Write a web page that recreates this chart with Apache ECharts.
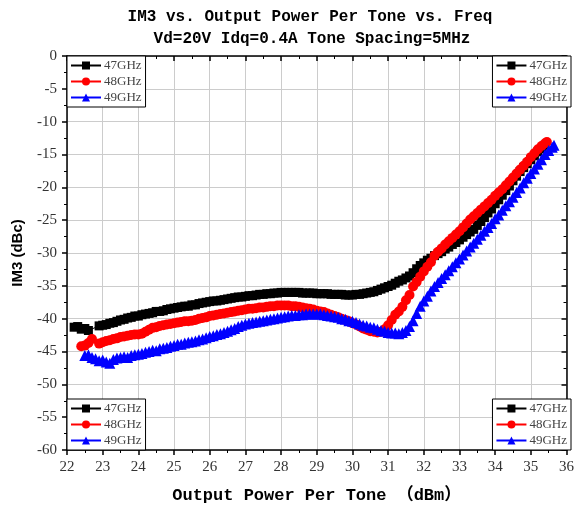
<!DOCTYPE html>
<html>
<head>
<meta charset="utf-8">
<script src="https://cdn.jsdelivr.net/npm/echarts@6/dist/echarts.min.js"></script>
<style>html,body{margin:0;padding:0;background:#fff}#c{width:577px;height:514px}</style>
</head>
<body>
<div id="c"></div>
<script>
const titleLines = ['IM3 vs. Output Power Per Tone vs. Freq', 'Vd=20V Idq=0.4A Tone Spacing=5MHz'];
const xName = 'Output Power Per Tone \uFF08dBm\uFF09';
const yName = 'IM3 (dBc)';
const seriesNames = ['47GHz', '48GHz', '49GHz'];
const seriesColors = ['#000000', '#ff0000', '#0000ff'];
const seriesSymbols = ['rect', 'circle', 'triangle'];
const xRange = [22, 36, 1];
const yRange = [-60, 0, 5];

const im3_47GHz = [
[22.2,-41.3],[22.3,-41.2],[22.4,-41.6],[22.5,-41.5],[22.6,-41.8],
[22.9,-41.1],[23.0,-41.0],[23.1,-40.9],[23.2,-40.7],[23.3,-40.6],[23.4,-40.4],[23.5,-40.2],[23.6,-40.1],[23.7,-39.9],[23.8,-39.8],[23.9,-39.6],
[24.0,-39.6],[24.1,-39.4],[24.2,-39.3],[24.3,-39.2],[24.4,-39.1],[24.5,-38.9],[24.6,-38.9],[24.7,-38.8],[24.8,-38.6],[24.9,-38.5],
[25.0,-38.4],[25.1,-38.3],[25.2,-38.2],[25.3,-38.1],[25.4,-38.1],[25.5,-37.9],[25.6,-37.9],[25.7,-37.7],[25.8,-37.6],[25.9,-37.5],
[26.0,-37.4],[26.1,-37.3],[26.2,-37.3],[26.3,-37.2],[26.4,-37.1],[26.5,-37.0],[26.6,-36.9],[26.7,-36.8],[26.8,-36.7],[26.9,-36.7],
[27.0,-36.6],[27.1,-36.5],[27.2,-36.5],[27.3,-36.4],[27.4,-36.3],[27.5,-36.3],[27.6,-36.2],[27.7,-36.2],[27.8,-36.1],[27.9,-36.1],
[28.0,-36.0],[28.1,-36.0],[28.2,-36.0],[28.3,-36.0],[28.4,-36.0],[28.5,-36.0],[28.6,-36.1],[28.7,-36.1],[28.8,-36.1],[28.9,-36.1],
[29.0,-36.2],[29.1,-36.2],[29.2,-36.2],[29.3,-36.2],[29.4,-36.3],[29.5,-36.3],[29.6,-36.3],[29.7,-36.3],[29.8,-36.4],[29.9,-36.4],
[30.0,-36.4],[30.1,-36.3],[30.2,-36.3],[30.3,-36.2],[30.4,-36.1],[30.5,-36.0],[30.6,-35.9],[30.7,-35.7],[30.8,-35.5],[30.9,-35.3],
[31.0,-35.1],[31.1,-34.9],[31.2,-34.6],[31.3,-34.3],[31.4,-34.1],[31.5,-33.8],[31.6,-33.5],[31.7,-33.0],[31.8,-32.4],[31.9,-31.9],
[32.0,-31.5],[32.1,-31.1],[32.2,-30.8],[32.3,-30.4],[32.4,-30.1],[32.5,-29.8],[32.6,-29.4],[32.7,-29.1],[32.8,-28.7],[32.9,-28.4],
[33.0,-28.0],[33.1,-27.6],[33.2,-27.2],[33.3,-26.8],[33.4,-26.4],[33.5,-25.8],[33.6,-25.2],[33.7,-24.6],[33.8,-23.9],[33.9,-23.3],
[34.0,-22.5],[34.1,-21.9],[34.2,-21.2],[34.3,-20.5],[34.4,-19.8],[34.5,-19.0],[34.6,-18.3],[34.7,-17.6],[34.8,-17.0],[34.9,-16.4],
[35.0,-15.8],[35.1,-15.2],[35.2,-14.6],[35.3,-14.1],[35.4,-13.6]
];

const im3_48GHz = [
[22.4,-44.2],[22.5,-44.1],[22.6,-43.7],[22.7,-43.1],
[22.9,-43.8],[23.0,-43.6],[23.1,-43.4],[23.2,-43.3],[23.3,-43.1],[23.4,-43.0],[23.5,-42.8],[23.6,-42.7],[23.7,-42.6],[23.8,-42.5],[23.9,-42.4],
[24.0,-42.4],[24.1,-42.3],[24.2,-42.0],[24.3,-41.7],[24.4,-41.4],[24.5,-41.3],[24.6,-41.1],[24.7,-41.0],[24.8,-40.9],[24.9,-40.8],
[25.0,-40.7],[25.1,-40.6],[25.2,-40.5],[25.3,-40.4],[25.4,-40.4],[25.5,-40.3],[25.6,-40.2],[25.7,-40.0],[25.8,-39.9],[25.9,-39.8],
[26.0,-39.6],[26.1,-39.5],[26.2,-39.4],[26.3,-39.3],[26.4,-39.2],[26.5,-39.1],[26.6,-39.0],[26.7,-38.9],[26.8,-38.8],[26.9,-38.7],
[27.0,-38.6],[27.1,-38.5],[27.2,-38.5],[27.3,-38.4],[27.4,-38.3],[27.5,-38.3],[27.6,-38.2],[27.7,-38.1],[27.8,-38.1],[27.9,-38.0],
[28.0,-38.0],[28.1,-38.0],[28.2,-38.0],[28.3,-38.1],[28.4,-38.1],[28.5,-38.2],[28.6,-38.3],[28.7,-38.4],[28.8,-38.5],[28.9,-38.6],
[29.0,-38.8],[29.1,-38.9],[29.2,-39.0],[29.3,-39.2],[29.4,-39.4],[29.5,-39.6],[29.6,-39.8],[29.7,-40.0],[29.8,-40.2],[29.9,-40.4],
[30.0,-40.7],[30.1,-40.9],[30.2,-41.2],[30.3,-41.5],[30.4,-41.7],[30.5,-41.9],[30.6,-42.0],[30.7,-42.1],[30.8,-42.0],[30.9,-41.6],
[31.0,-41.0],[31.1,-40.2],[31.2,-39.4],[31.3,-38.9],[31.4,-38.2],[31.5,-37.2],[31.6,-36.4],[31.7,-35.1],[31.8,-34.4],[31.9,-33.6],
[32.0,-32.8],[32.1,-32.1],[32.2,-31.4],[32.3,-30.4],[32.4,-29.8],[32.5,-29.3],[32.6,-28.7],[32.7,-28.2],[32.8,-27.7],[32.9,-27.2],
[33.0,-26.7],[33.1,-26.1],[33.2,-25.5],[33.3,-24.9],[33.4,-24.4],[33.5,-23.9],[33.6,-23.4],[33.7,-22.9],[33.8,-22.4],[33.9,-21.9],
[34.0,-21.3],[34.1,-20.8],[34.2,-20.3],[34.3,-19.7],[34.4,-19.1],[34.5,-18.5],[34.6,-17.9],[34.7,-17.3],[34.8,-16.7],[34.9,-16.1],
[35.0,-15.4],[35.1,-14.8],[35.2,-14.2],[35.3,-13.7],[35.4,-13.3],[35.45,-13.1]
];

const im3_49GHz = [
[22.5,-45.6],[22.6,-45.5],[22.7,-45.9],[22.8,-46.1],[22.9,-46.4],
[23.0,-46.3],[23.1,-46.6],[23.2,-46.8],[23.3,-46.2],[23.4,-46.0],[23.5,-45.9],[23.6,-45.8],[23.7,-45.9],[23.8,-45.6],[23.9,-45.5],
[24.0,-45.4],[24.1,-45.3],[24.2,-45.1],[24.3,-45.0],[24.4,-44.8],[24.5,-44.9],[24.6,-44.6],[24.7,-44.5],[24.8,-44.4],[24.9,-44.2],
[25.0,-44.1],[25.1,-43.9],[25.2,-43.9],[25.3,-43.7],[25.4,-43.6],[25.5,-43.5],[25.6,-43.4],[25.7,-43.2],[25.8,-43.1],[25.9,-42.9],
[26.0,-42.7],[26.1,-42.6],[26.2,-42.4],[26.3,-42.3],[26.4,-42.1],[26.5,-41.9],[26.6,-41.7],[26.7,-41.5],[26.8,-41.2],[26.9,-41.0],
[27.0,-40.8],[27.1,-40.7],[27.2,-40.6],[27.3,-40.5],[27.4,-40.4],[27.5,-40.3],[27.6,-40.2],[27.7,-40.1],[27.8,-40.0],[27.9,-39.9],
[28.0,-39.8],[28.1,-39.7],[28.2,-39.6],[28.3,-39.5],[28.4,-39.5],[28.5,-39.4],[28.6,-39.4],[28.7,-39.3],[28.8,-39.3],[28.9,-39.3],
[29.0,-39.3],[29.1,-39.3],[29.2,-39.4],[29.3,-39.5],[29.4,-39.6],[29.5,-39.7],[29.6,-39.8],[29.7,-40.0],[29.8,-40.1],[29.9,-40.3],
[30.0,-40.4],[30.1,-40.6],[30.2,-40.8],[30.3,-41.0],[30.4,-41.1],[30.5,-41.3],[30.6,-41.4],[30.7,-41.6],[30.8,-41.8],[30.9,-41.9],
[31.0,-42.1],[31.1,-42.2],[31.2,-42.2],[31.3,-42.3],[31.4,-42.1],[31.5,-41.8],[31.6,-41.2],[31.7,-40.3],[31.8,-39.2],[31.9,-38.1],
[32.0,-37.3],[32.1,-36.6],[32.2,-35.8],[32.3,-35.1],[32.4,-34.5],[32.5,-33.9],[32.6,-33.3],[32.7,-32.7],[32.8,-32.1],[32.9,-31.5],
[33.0,-30.9],[33.1,-30.3],[33.2,-29.7],[33.3,-29.1],[33.4,-28.5],[33.5,-27.9],[33.6,-27.3],[33.7,-26.7],[33.8,-26.1],[33.9,-25.5],
[34.0,-24.8],[34.1,-24.2],[34.2,-23.5],[34.3,-22.8],[34.4,-22.2],[34.5,-21.5],[34.6,-20.8],[34.7,-20.1],[34.8,-19.3],[34.9,-18.6],
[35.0,-17.9],[35.1,-17.2],[35.2,-16.5],[35.3,-15.8],[35.4,-15.0],[35.5,-14.4],[35.6,-13.9],[35.65,-13.6]
];

const seriesData = [im3_47GHz, im3_48GHz, im3_49GHz];
const symbolSizes = [9, 10, 11];

const chart = echarts.init(document.getElementById('c'), null, {renderer: 'canvas'});

const labelFont = {fontFamily: '"Liberation Serif", serif', fontSize: 15, color: '#333'};
const frameAxisCommon = {
  axisLine: {show: true, onZero: false, lineStyle: {color: '#000', width: 1.5}},
  axisLabel: {show: false},
  splitLine: {show: false}
};

function makeLegend(pos) {
  return Object.assign({
    orient: 'vertical',
    data: seriesNames,
    backgroundColor: '#fff',
    borderColor: '#000',
    borderWidth: 1,
    borderRadius: 0,
    padding: [3, 4, 3, 3],
    itemGap: 3,
    itemWidth: 30,
    itemHeight: 10,
    selectedMode: false,
    textStyle: {fontFamily: '"Liberation Serif", serif', fontSize: 13, color: '#444', padding: [0, 0, 0, -2]},
    z: 10
  }, pos);
}

const option = {
  animation: false,
  backgroundColor: '#fff',
  graphic: [
    {type: 'text', x: 310, y: 17, style: {text: titleLines[0], textAlign: 'center', textVerticalAlign: 'middle', font: 'bold 16px "Liberation Mono", monospace', fill: '#000'}},
    {type: 'text', x: 312, y: 39, style: {text: titleLines[1], textAlign: 'center', textVerticalAlign: 'middle', font: 'bold 16px "Liberation Mono", monospace', fill: '#000'}}
  ],
  grid: {left: 67, right: 6, top: 56, bottom: 64, containLabel: false},
  legend: [
    makeLegend({left: 67, top: 56}),
    makeLegend({right: 6, top: 56}),
    makeLegend({left: 67, bottom: 64}),
    makeLegend({right: 6, bottom: 64})
  ],
  xAxis: [
    {
      type: 'value', position: 'bottom', min: xRange[0], max: xRange[1], interval: xRange[2],
      name: xName, nameLocation: 'middle', nameGap: 37,
      nameTextStyle: {fontFamily: '"Liberation Mono", "Noto Sans CJK SC", monospace', fontWeight: 'bold', fontSize: 17, color: '#000'},
      axisLine: {show: true, onZero: false, lineStyle: {color: '#000', width: 1.5}},
      axisTick: {show: true, inside: false, length: 5, lineStyle: {color: '#000', width: 1.5}},
      minorTick: {show: true, splitNumber: 2, length: 3, lineStyle: {color: '#000', width: 1}},
      axisLabel: Object.assign({margin: 10}, labelFont),
      splitLine: {show: true, lineStyle: {color: '#cccccc', width: 1}}
    },
    Object.assign({
      type: 'value', position: 'top', min: xRange[0], max: xRange[1], interval: xRange[2],
      axisTick: {show: true, inside: true, length: 5, lineStyle: {color: '#000', width: 1.5}},
      minorTick: {show: true, splitNumber: 2, length: 3, lineStyle: {color: '#000', width: 1}}
    }, frameAxisCommon)
  ],
  yAxis: [
    {
      type: 'value', position: 'left', min: yRange[0], max: yRange[1], interval: yRange[2],
      name: yName, nameLocation: 'middle', nameGap: 42, nameRotate: 90,
      nameTextStyle: {fontFamily: '"Liberation Sans", Arial, sans-serif', fontWeight: 'bold', fontSize: 15, color: '#000'},
      axisLine: {show: true, onZero: false, lineStyle: {color: '#000', width: 1.5}},
      axisTick: {show: true, inside: false, length: 5, lineStyle: {color: '#000', width: 1.5}},
      minorTick: {show: true, splitNumber: 2, length: 3, lineStyle: {color: '#000', width: 1}},
      axisLabel: Object.assign({margin: 10}, labelFont),
      splitLine: {show: true, lineStyle: {color: '#cccccc', width: 1}}
    },
    Object.assign({
      type: 'value', position: 'right', min: yRange[0], max: yRange[1], interval: yRange[2],
      axisTick: {show: true, inside: true, length: 5, lineStyle: {color: '#000', width: 1.5}},
      minorTick: {show: true, splitNumber: 2, length: 3, lineStyle: {color: '#000', width: 1}}
    }, frameAxisCommon)
  ],
  series: seriesNames.map((name, i) => ({
    name: name,
    type: 'line',
    xAxisIndex: 0,
    yAxisIndex: 0,
    data: seriesData[i],
    symbol: seriesSymbols[i],
    symbolSize: symbolSizes[i],
    showAllSymbol: true,
    itemStyle: {color: seriesColors[i]},
    lineStyle: {color: seriesColors[i], width: 1},
    z: 2 + i
  }))
};

chart.setOption(option);
</script>
</body>
</html>
